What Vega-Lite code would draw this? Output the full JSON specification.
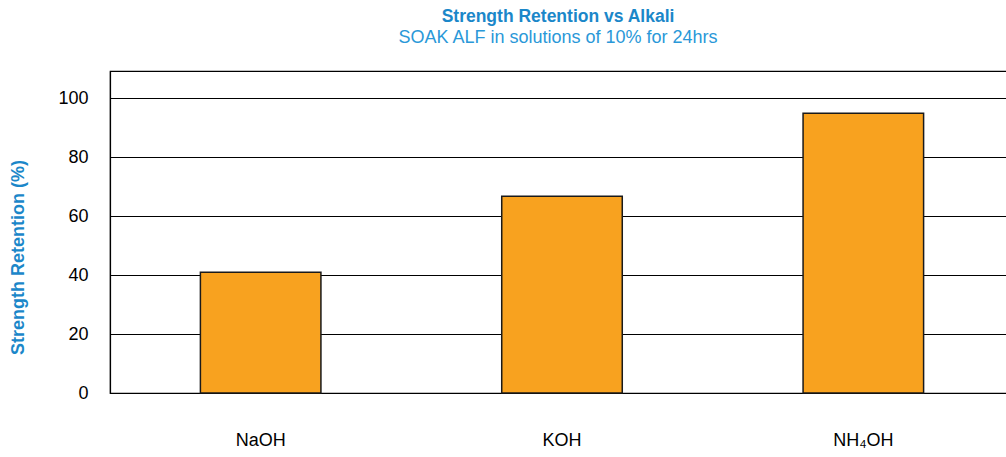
{
  "$schema": "https://vega.github.io/schema/vega-lite/v6.json",
  "autosize": "none",
  "width": 904,
  "height": 322,
  "padding": {"left": 110, "top": 71, "right": 0, "bottom": 64},
  "background": "white",
  "title": {
    "text": "Strength Retention vs Alkali",
    "subtitle": "SOAK ALF in solutions of 10% for 24hrs",
    "anchor": "middle",
    "dx": -4,
    "offset": 24,
    "font": "Liberation Sans",
    "fontSize": 17.5,
    "fontWeight": "bold",
    "color": "#1B87C9",
    "subtitleFont": "Liberation Sans",
    "subtitleFontSize": 18,
    "subtitleColor": "#2A98D8",
    "subtitlePadding": 4
  },
  "config": {
    "view": {"stroke": "#000", "strokeWidth": 1.2},
    "axis": {"labelFont": "Liberation Sans", "titleFont": "Liberation Sans"}
  },
  "data": {
    "values": [
      {"alkali": "NaOH", "retention": 41},
      {"alkali": "KOH", "retention": 66.8},
      {"alkali": "NH₄OH", "retention": 95}
    ]
  },
  "mark": {"type": "bar", "color": "#F8A21F", "stroke": "#1a1a1a", "strokeWidth": 1.5},
  "encoding": {
    "x": {
      "field": "alkali",
      "type": "nominal",
      "sort": null,
      "scale": {"paddingInner": 0.6, "paddingOuter": 0.3},
      "axis": {
        "title": null,
        "labelAngle": 0,
        "labelFontSize": 18,
        "labelColor": "#000",
        "labelPadding": 38,
        "ticks": false,
        "domainColor": "#000",
        "domainWidth": 1.2
      }
    },
    "y": {
      "field": "retention",
      "type": "quantitative",
      "scale": {"domain": [0, 109.3], "nice": false},
      "axis": {
        "title": "Strength Retention (%)",
        "titleColor": "#1B87C9",
        "titleFontSize": 18,
        "titleFontWeight": "bold",
        "titlePadding": 30,
        "titleY": 186,
        "values": [0, 20, 40, 60, 80, 100],
        "labelFontSize": 18,
        "labelColor": "#000",
        "labelPadding": 22,
        "ticks": false,
        "grid": true,
        "gridColor": "#000",
        "gridWidth": 1.2,
        "domainColor": "#000",
        "domainWidth": 1.2
      }
    }
  }
}
